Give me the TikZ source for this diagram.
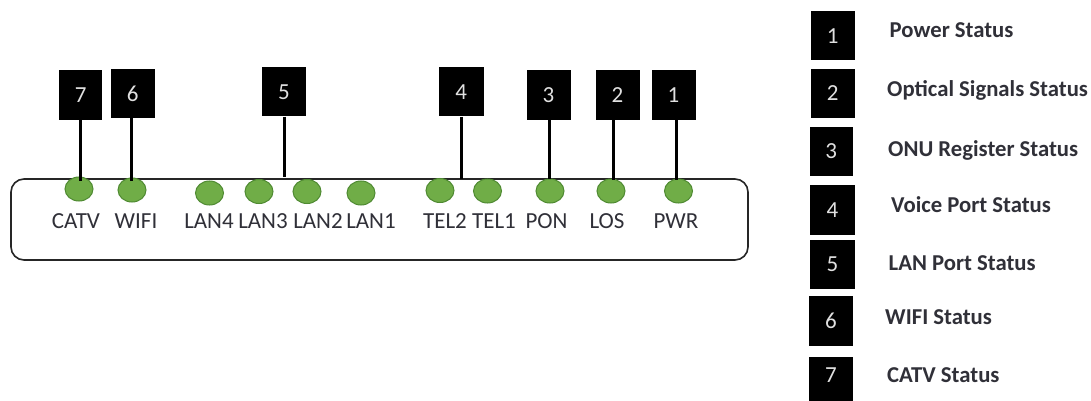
\documentclass[tikz,border=0pt]{standalone}
\usepackage{fontspec}
\setmainfont{Carlito}
\definecolor{ledfill}{HTML}{70AD47}
\definecolor{ledline}{HTML}{4F8A32}
\definecolor{lbl}{HTML}{303038}
\tikzset{
  numbox/.style={fill=black,draw=none,inner sep=0pt,minimum width=#1,text=white!88!black,font=\fontsize{23}{23}\selectfont},
  led/.style={ellipse,fill=ledfill,draw=ledline,line width=1pt,minimum width=28pt,minimum height=24pt,inner sep=0pt},
  portlabel/.style={text=lbl,font=\fontsize{23}{23}\selectfont,inner sep=0pt,anchor=base},
  legendlabel/.style={text=lbl,font=\bfseries\fontsize{22.7}{22.7}\selectfont,inner sep=0pt,anchor=base west},
  lead/.style={line width=3pt,black}
}
\usetikzlibrary{shapes.geometric}
\begin{document}
\begin{tikzpicture}[x=1pt,y=-1pt]
\useasboundingbox (0,0) rectangle (1091,401);
\fill[white] (0,0) rectangle (1091,401);
\node[draw=black!85,line width=1.6pt,rounded corners=13pt,minimum width=737pt,minimum height=81pt,inner sep=0pt] (panel) at (379.5,219.5) {};
% LEDs
\foreach \n/\x/\y in {catv/79/189,wifi/132/190,lanf/209.5/193,lanc/259/191.5,lanb/307/191.5,lana/361/193,telb/440/190.5,tela/487.5/191,pon/550/191,los/611/191,pwr/678.5/191}
  \node[led] (\n) at (\x,\y) {};
% port labels
\foreach \n/\x/\t in {catv/76/CATV,wifi/136/WIFI,lanf/209/LAN4,lanc/263/LAN3,lanb/318/LAN2,lana/371/LAN1,telb/445/TEL2,tela/494/TEL1,pon/546.5/PON,los/607/LOS,pwr/676/PWR}
  \node[portlabel] (t\n) at (\x,228.5) {\t};
% number boxes above panel
\foreach \n/\x/\y/\w/\h in {7/80.75/95/43/50,6/132.75/93.5/44.5/49,5/284/92/44/49,4/461.25/92/44.5/49,3/548.5/95/44/50,2/617.5/95/44/50,1/673.5/95/44/50}
  \node[numbox=\w pt,minimum height=\h pt] (b\n) at (\x,\y) {\n};
% connector free ends
\coordinate (e7) at (80.5,181);
\coordinate (e6) at (131.5,181);
\coordinate (e5) at (284.5,177);
\coordinate (e4) at (461.5,179);
\coordinate (e3) at (549,179);
\coordinate (e2) at (613,180);
\coordinate (e1) at (676,180);
\foreach \n in {7,6,5,4,3,2,1}
  \draw[lead] (b\n.south -| e\n) -- (e\n);
% legend
\foreach \n/\x/\y/\w/\h in {1/832.75/36/44.5/49,2/832.75/93.5/44.5/49,3/831.25/151/43.5/49,4/832.5/209.75/45/50.5,5/832.5/264.5/45/49,6/831/320.75/44/49.5}
  \node[numbox=\w pt,minimum height=\h pt] (k\n) at (\x,\y) {\n};
\node[numbox=44pt,minimum height=44pt,text height=15pt,text depth=8pt] (k7) at (831,379) {7};
\node[legendlabel] (s1) at (889.5,38) {Power Status};
\node[legendlabel] (s2) at (887,97) {Optical Signals Status};
\node[legendlabel] (s3) at (888,156) {ONU Register Status};
\node[legendlabel] (s4) at (891,212) {Voice Port Status};
\node[legendlabel] (s5) at (888.5,270) {LAN Port Status};
\node[legendlabel] (s6) at (885,324) {WIFI Status};
\node[legendlabel] (s7) at (887,382) {CATV Status};
\end{tikzpicture}
\end{document}
